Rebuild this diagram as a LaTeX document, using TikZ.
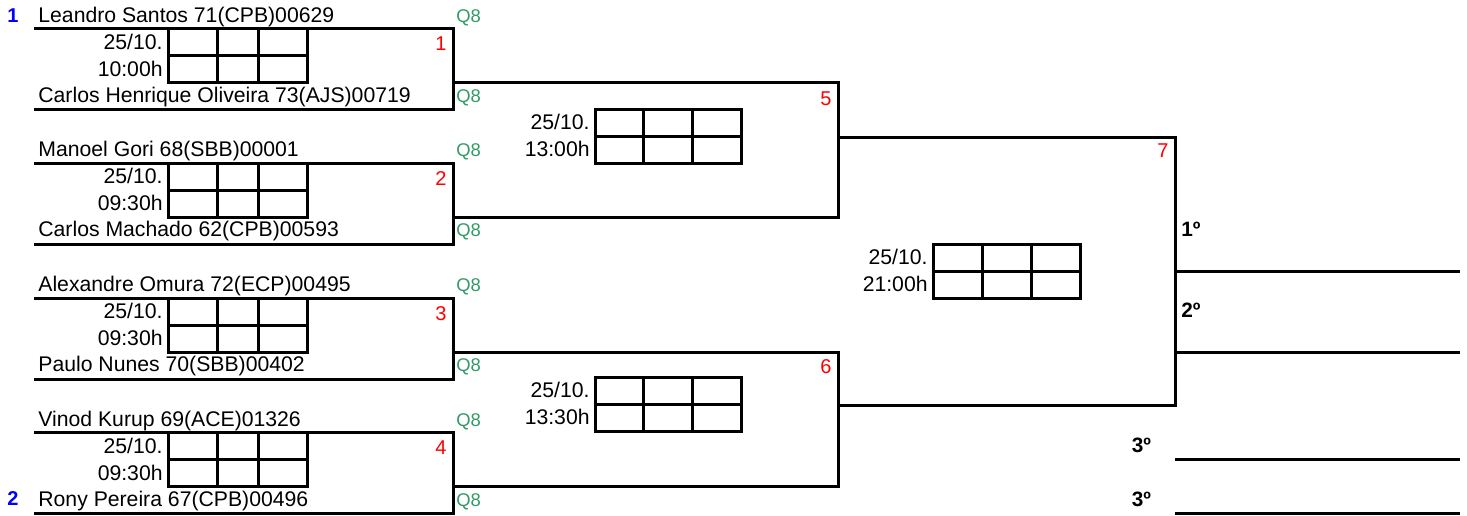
\documentclass[tikz,border=0pt]{standalone}
\usepackage{fontspec}
\setmainfont{Liberation Sans}
\usetikzlibrary{positioning}
\definecolor{seedblue}{RGB}{0, 0, 255}
\definecolor{qualgreen}{RGB}{51, 153, 102}
\definecolor{gamered}{RGB}{255, 0, 0}

\begin{document}
\begin{tikzpicture}[x=0.5pt, y=-0.5pt,
  bracket/.style={line width=1.5pt},
  player/.style={anchor=base west, inner sep=0pt, font=\fontsize{10.6}{12}\selectfont},
  slot/.style={anchor=base east, inner sep=0pt, font=\fontsize{10.6}{12}\selectfont},
  qual/.style={anchor=base west, inner sep=0pt, text=qualgreen, font=\fontsize{9.2}{11}\selectfont},
  gameno/.style={anchor=base east, inner sep=0pt, text=gamered, font=\fontsize{10}{11}\selectfont},
  seed/.style={anchor=base west, inner sep=0pt, text=seedblue, font=\fontsize{10}{11}\selectfont\bfseries},
  place/.style={anchor=base west, inner sep=0pt, font=\fontsize{10.4}{11}\selectfont\bfseries}]
  \useasboundingbox (0,0) rectangle (1467,515);

  % first round: box, players, qualifier tags
  \foreach \t/\pa/\pb [count=\i] in {
      28.5/Leandro Santos 71(CPB)00629/Carlos Henrique Oliveira 73(AJS)00719,
      163/Manoel Gori 68(SBB)00001/Carlos Machado 62(CPB)00593,
      298/Alexandre Omura 72(ECP)00495/Paulo Nunes 70(SBB)00402,
      432.5/Vinod Kurup 69(ACE)01326/Rony Pereira 67(CPB)00496} {
    \draw[bracket] (34,\t) -- (453,\t) -- (453,\t+81) -- (34,\t+81);
    \coordinate (out\i) at (453,\t+54);
    \node[player] (pa\i) at (38,\t-6.5) {\pa};
    \node[player] (pb\i) at (38,\t+73.5) {\pb};
    \node[qual] (qa\i) at (456,\t-6.5) {Q8};
    \node[qual] (qb\i) at (456,\t+73.5) {Q8};
    \node[gameno] (g\i) at (447,\t+22) {\i};
  }

  % later rounds
  \coordinate (r5) at (838,0);
  \coordinate (r7) at (1175,0);
  \draw[bracket] (out1) -- (out1 -| r5) -- (out2 -| r5) -- (out2);
  \draw[bracket] (out3) -- (out3 -| r5) -- (out4 -| r5) -- (out4);
  \coordinate (out5) at (838,137);
  \coordinate (out6) at (838,405);
  \draw[bracket] (out5) -- (out5 -| r7) -- (out6 -| r7) -- (out6);
  \node[gameno] (g5) at (832,105) {5};
  \node[gameno] (g6) at (832,373) {6};
  \node[gameno] (g7) at (1169,157) {7};

  % score grids with date and time
  \foreach \gx/\gy/\ca/\cb/\cc/\hr [count=\j] in {
      168/28.5/49/90/139/10:00h, 168/163/49/90/139/09:30h,
      168/298/49/90/139/09:30h, 168/432.5/49/90/139/09:30h,
      595/109/48/97/146/13:00h, 595/377/48/97/146/13:30h,
      933/244/49/98/147/21:00h} {
    \draw[bracket] (\gx,\gy) rectangle (\gx+\cc,\gy+54);
    \draw[bracket] (\gx,\gy+27) -- (\gx+\cc,\gy+27);
    \foreach \c in {\ca,\cb}
      \draw[bracket] (\gx+\c,\gy) -- (\gx+\c,\gy+54);
    \node[slot] (day\j) at (\gx-5,\gy+20.5) {25/10.};
    \node[slot] (hour\j) at (\gx-5,\gy+47.5) {\hr};
  }

  % seeds
  \node[seed] (s1) at (7,22) {1};
  \node[seed] (s2) at (7,505.5) {2};

  % final places
  \coordinate (fin) at (1460,0);
  \draw[bracket] (1175,271) -- (1175,271 -| fin);
  \draw[bracket] (1175,352) -- (1175,352 -| fin);
  \draw[bracket] (1175,459) -- (1175,459 -| fin);
  \draw[bracket] (1175,513) -- (1175,513 -| fin);
  \node[place] (first) at (1181,236.5) {1º};
  \node[place] (second) at (1181,317) {2º};
  \node[place] (thirda) at (1131.5,452) {3º};
  \node[place] (thirdb) at (1131.5,506) {3º};
\end{tikzpicture}
\end{document}
